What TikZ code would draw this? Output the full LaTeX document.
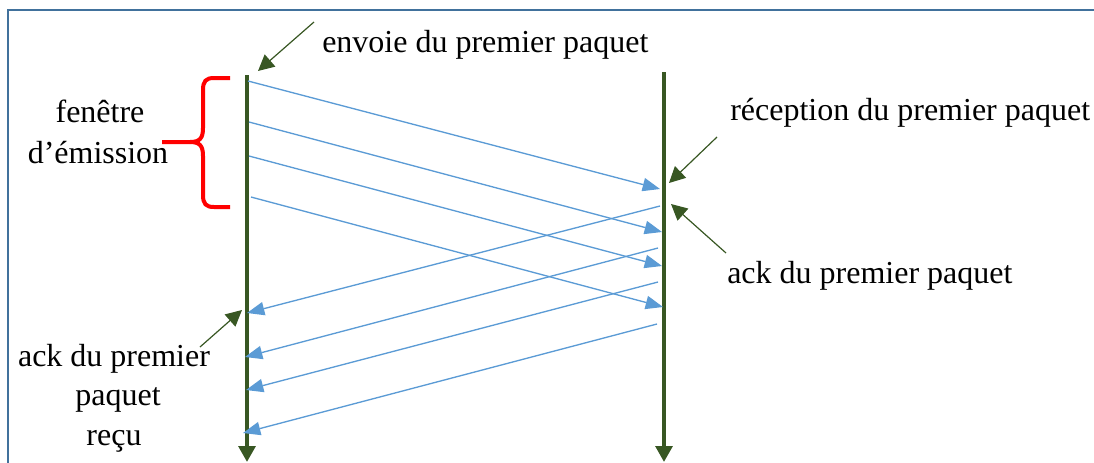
\documentclass[tikz,border=0pt]{standalone}
\usepackage{fontspec}
\setmainfont{Liberation Serif}
\usetikzlibrary{arrows.meta}
\definecolor{tlgreen}{RGB}{56,87,35}
\definecolor{msgblue}{RGB}{91,155,213}
\definecolor{framebl}{RGB}{65,113,156}
\definecolor{bracered}{RGB}{255,0,0}
\begin{document}
\begin{tikzpicture}[x=0.75pt,y=-0.75pt,
  lbl/.style={inner sep=0pt,font=\fontsize{24}{29}\selectfont},
  timeline/.style={draw=tlgreen,line width=3pt,-{Triangle[length=12pt,width=12.5pt]}},
  msg/.style={draw=msgblue,line width=1pt,-{Triangle[length=13pt,width=10pt]}},
  pointer/.style={draw=tlgreen,line width=0.9pt,-{Triangle[length=12pt,width=12pt]}},
  brace/.style={draw=bracered,line width=3pt,line cap=butt},
  frame/.style={draw=framebl,line width=1.6pt}]
\useasboundingbox (0,0) rectangle (1094,462);
% frame
\coordinate (fr1) at (1100,10);
\coordinate (fr2) at (8,10);
\coordinate (fr3) at (8,470);
\draw[frame] (fr1) -- (fr2) -- (fr3);
% timelines
\coordinate (Ltop) at (247,75);
\coordinate (Lbot) at (247,462);
\coordinate (Rtop) at (664,72);
\coordinate (Rbot) at (664,462);
\draw[timeline] (Ltop) -- (Lbot);
\draw[timeline] (Rtop) -- (Rbot);
% forward messages
\coordinate (f1s) at (248,81);  \coordinate (f1e) at (660,189);
\coordinate (f2s) at (249,122); \coordinate (f2e) at (662,232);
\coordinate (f3s) at (249,156); \coordinate (f3e) at (662,266);
\coordinate (f4s) at (251,197); \coordinate (f4e) at (663,307);
\draw[msg] (f1s) -- (f1e);
\draw[msg] (f2s) -- (f2e);
\draw[msg] (f3s) -- (f3e);
\draw[msg] (f4s) -- (f4e);
% acknowledgements
\coordinate (b1s) at (660,206); \coordinate (b1e) at (247,313);
\coordinate (b2s) at (658,248); \coordinate (b2e) at (245,357);
\coordinate (b3s) at (658,282); \coordinate (b3e) at (246,390);
\coordinate (b4s) at (657,324); \coordinate (b4e) at (243,433);
\draw[msg] (b1s) -- (b1e);
\draw[msg] (b2s) -- (b2e);
\draw[msg] (b3s) -- (b3e);
\draw[msg] (b4s) -- (b4e);
% brace
\draw[brace] (230,78) -- (214,78) .. controls (206,78) and (203,81) .. (203,90)
  -- (203,128) .. controls (203,138) and (200,142) .. (190,142) -- (162,142);
\draw[brace] (190,142) .. controls (200,142) and (203,146) .. (203,156)
  -- (203,195) .. controls (203,204) and (206,207) .. (214,207) -- (230,207);
% labels
\node[lbl,anchor=base west] (envoi) at (322,52) {envoie du premier paquet};
\node[lbl,anchor=base west] (recep) at (730,120) {réception du premier paquet};
\node[lbl,anchor=base west] (ackr) at (727,283) {ack du premier paquet};
\node[lbl,anchor=base] (fen1) at (100,122) {fenêtre};
\node[lbl,anchor=base] (fen2) at (98,163) {d’émission};
\node[lbl,anchor=base] (ackl1) at (114,366) {ack du premier};
\node[lbl,anchor=base] (ackl2) at (118,405) {paquet};
\node[lbl,anchor=base] (ackl3) at (114,445) {reçu};
% pointers
\coordinate (p1s) at (314,22);  \coordinate (p1e) at (258,71);
\coordinate (p2s) at (717,137); \coordinate (p2e) at (669,183);
\coordinate (p3s) at (726,253); \coordinate (p3e) at (671,204);
\coordinate (p4s) at (200,347); \coordinate (p4e) at (242,310);
\draw[pointer] (p1s) -- (p1e);
\draw[pointer] (p2s) -- (p2e);
\draw[pointer] (p3s) -- (p3e);
\draw[pointer] (p4s) -- (p4e);
\end{tikzpicture}
\end{document}
